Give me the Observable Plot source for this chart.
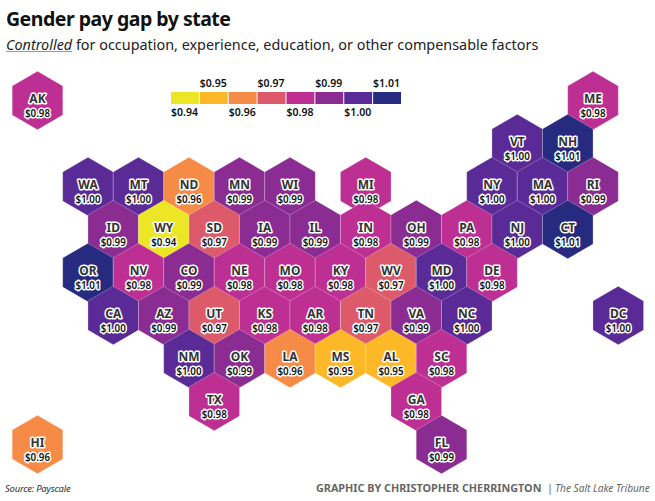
<!DOCTYPE html>
<html><head><meta charset="utf-8">
<script src="https://cdn.jsdelivr.net/npm/d3@7"></script>
<script src="https://cdn.jsdelivr.net/npm/@observablehq/plot@0.6"></script>
<style>
html,body{margin:0;padding:0;background:#fff}
#box{position:relative;width:655px;height:501px;overflow:hidden;font-family:"Noto Sans",sans-serif;color:#111}
#title{position:absolute;left:6px;top:5px;font-size:19.5px;font-weight:700;letter-spacing:-.5px;white-space:nowrap}
#sub{position:absolute;left:6px;top:35px;font-size:14.4px;color:#222;white-space:nowrap}
#sub i{text-decoration:underline;text-decoration-color:#999}
#map{position:absolute;left:0;top:60px}
#legend{position:absolute;left:161px;top:72px}
#src{position:absolute;left:5px;top:482px;font-size:9.5px;font-style:italic;color:#333;letter-spacing:-.25px}
#credit{position:absolute;left:316px;top:480px;width:340px;height:16px;color:#666;white-space:nowrap}
#credit b{position:absolute;left:0;top:0;font-size:10.8px}
#credit span{position:absolute;left:231px;top:0;font-size:10.8px;font-weight:400}
#credit i{position:absolute;left:239px;top:1px;font-size:10.1px;font-weight:400}
svg{display:block;overflow:visible}
</style></head><body>
<div id="box">
<div id="title">Gender pay gap by state</div>
<div id="sub"><i>Controlled</i> for occupation, experience, education, or other compensable factors</div>
<div id="map"></div>
<div id="legend"></div>
<div id="src">Source: Payscale</div>
<div id="credit"><b>GRAPHIC BY CHRISTOPHER CHERRINGTON</b><span>|</span><i>The Salt Lake Tribune</i></div>
</div>
<script>
const states = ["AK","ME","VT","NH","WA","MT","ND","MN","WI","MI","NY","MA","RI","ID","WY","SD","IA","IL","IN","OH","PA","NJ","CT","OR","NV","CO","NE","MO","KY","WV","MD","DE","CA","AZ","UT","KS","AR","TN","VA","NC","DC","NM","OK","LA","MS","AL","SC","TX","GA","HI","FL"];
const gridCols = [0,22,19,21,2,4,6,8,10,13,18,20,22,3,5,7,9,11,13,15,17,19,21,2,4,6,8,10,12,14,16,18,3,5,7,9,11,13,15,17,23,6,8,10,12,14,16,7,15,0,16];
const gridRows = [0,0,1,1,2,2,2,2,2,2,2,2,2,3,3,3,3,3,3,3,3,3,3,4,4,4,4,4,4,4,4,4,5,5,5,5,5,5,5,5,5,6,6,6,6,6,6,7,7,8,8];
const pay = [0.98,0.98,1.00,1.01,1.00,1.00,0.96,0.99,0.99,0.98,1.00,1.00,0.99,0.99,0.94,0.97,0.99,0.99,0.98,0.99,0.98,1.00,1.01,1.01,0.98,0.99,0.98,0.98,0.98,0.97,1.00,0.98,1.00,0.99,0.97,0.98,0.98,0.97,0.99,1.00,1.00,1.00,0.99,0.96,0.95,0.95,0.98,0.98,0.98,0.96,0.99];
const legendValues = [0.94,0.95,0.96,0.97,0.98,0.99,1.00,1.01];
const legendColors = ["#ece624","#fdb827","#f68b47","#dc5a69","#bd2f93","#8a2c92","#5a2a96","#272b80"];

const table = states.map((s,i)=>({state:s,col:gridCols[i],row:gridRows[i],pay:pay[i]}));
const money = d3.format("$.2f");
const colorScale = {type:"ordinal",domain:legendValues,range:legendColors};

document.getElementById("map").append(Plot.plot({
  width:655,height:420,margin:0,
  x:{domain:[0,24],range:[37,643],axis:null},
  y:{domain:[0,8],range:[40,384],axis:null},
  color:colorScale,
  marks:[
    Plot.dot(table,{x:"col",y:"row",symbol:"hexagon",r:25.3,fill:"pay",stroke:"#fff",strokeOpacity:0.25,strokeWidth:1}),
    Plot.text(table,{x:"col",y:"row",text:"state",dy:-1,fontSize:12,fontWeight:700,fill:"#333",stroke:"#fff",strokeWidth:3,fontFamily:"Noto Sans"}),
    Plot.text(table,{x:"col",y:"row",text:d=>money(d.pay),dy:13,fontSize:9.8,fontWeight:600,fill:"#111",stroke:"#fff",strokeWidth:3,fontFamily:"Noto Sans"})
  ]
}));

document.getElementById("legend").append(Plot.plot({
  width:251,height:52,marginTop:20,marginBottom:20,marginLeft:10,marginRight:10,
  x:{type:"band",domain:legendValues,padding:0,round:false,axis:null},
  color:colorScale,
  marks:[
    Plot.cell(legendValues,{x:d=>d,fill:d=>d,insetRight:1}),
    Plot.text(legendValues,{filter:(d,i)=>i%2==1,x:d=>d,text:d=>money(d),frameAnchor:"top",lineAnchor:"bottom",dx:-1.5,dy:-6,fontSize:10.5,fontWeight:600,fill:"#111",fontFamily:"Noto Sans"}),
    Plot.text(legendValues,{filter:(d,i)=>i%2==0,x:d=>d,text:d=>money(d),frameAnchor:"bottom",lineAnchor:"top",dx:-1.5,dy:4,fontSize:10.5,fontWeight:600,fill:"#111",fontFamily:"Noto Sans"})
  ]
}));
</script>
</body></html>
